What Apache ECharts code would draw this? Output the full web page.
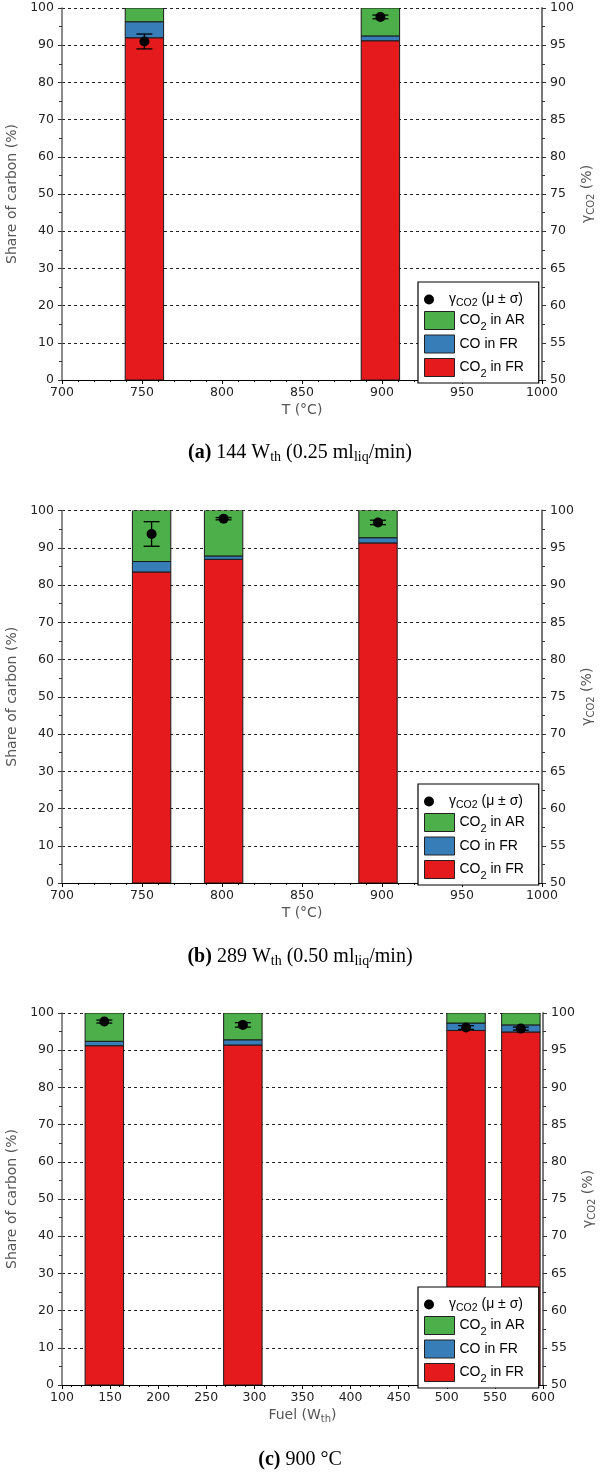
<!DOCTYPE html>
<html>
<head>
<meta charset="utf-8">
<script src="https://cdn.jsdelivr.net/npm/echarts@6/dist/echarts.min.js"></script>
<style>
html,body{margin:0;padding:0;background:#fff;}
#chart{width:600px;height:1474px;}
</style>
</head>
<body>
<div id="chart"></div>
<script>
// ---------------- DATA ----------------
// Panel (a): 144 W_th (0.25 ml_liq/min)
const tempsA = [751.5, 899];
const frA = [92.0, 91.2];      // CO2 in FR (%)
const coA = [4.3, 1.3];        // CO in FR (%)
const arA = [3.7, 7.5];        // CO2 in AR (%)
const gammaA = [95.5, 98.8];   // gamma CO2 mean (%)
const sdA = [1.0, 0.25];       // gamma CO2 std (%)

// Panel (b): 289 W_th (0.50 ml_liq/min)
const tempsB = [756, 801, 897.5];
const frB = [83.5, 86.9, 91.3];
const coB = [2.8, 0.9, 1.4];
const arB = [13.7, 12.2, 7.3];
const gammaB = [96.85, 98.9, 98.4];
const sdB = [1.65, 0.15, 0.3];

// Panel (c): 900 °C
const fuelC = [144, 288, 520, 577];
const frC = [91.2, 91.4, 95.3, 94.9];
const coC = [1.2, 1.4, 2.0, 1.9];
const arC = [7.6, 7.2, 2.7, 3.2];
const gammaC = [98.85, 98.4, 98.05, 97.9];
const sdC = [0.2, 0.3, 0.25, 0.2];

const tempTicks = {min: 700, max: 1000, interval: 50};
const fuelTicks = {min: 100, max: 600, interval: 50};
const shareTicks = {min: 0, max: 100, interval: 10};
const gammaTicks = {min: 50, max: 100, interval: 5};

// ---------------- STYLE ----------------
const RED = '#E41A1C', BLUE = '#377EB8', GREEN = '#4DAF4A';
const AXF = 'DejaVu Sans';
const LGF = 'Liberation Sans';
const SERIF = 'Liberation Serif';

const panels = [
  {x: tempsA, fr: frA, co: coA, ar: arA, g: gammaA, sd: sdA, half: 12, ticks: tempTicks,
   xname: 'T (°C)',
   grid: {left: 62, top: 8, width: 480, height: 372}, legendTop: 282, capTop: 436,
   caption: '{b|(a)}{n| 144 W}{s|th}{n| (0.25 ml}{s|liq}{n|/min)}'},
  {x: tempsB, fr: frB, co: coB, ar: arB, g: gammaB, sd: sdB, half: 12, ticks: tempTicks,
   xname: 'T (°C)',
   grid: {left: 62, top: 510.5, width: 480, height: 372.5}, legendTop: 784, capTop: 940,
   caption: '{b|(b)}{n| 289 W}{s|th}{n| (0.50 ml}{s|liq}{n|/min)}'},
  {x: fuelC, fr: frC, co: coC, ar: arC, g: gammaC, sd: sdC, half: 20, ticks: fuelTicks,
   xname: 'Fuel (W{s|th})',
   grid: {left: 62, top: 1013, width: 481, height: 372}, legendTop: 1287, capTop: 1443,
   caption: '{b|(c)}{n| 900 °C}'}
];

const subRich = {
  n: {fontFamily: AXF, fontSize: 14, color: '#555', lineHeight: 16},
  s: {fontFamily: AXF, fontSize: 10, color: '#555', lineHeight: 10, padding: [8, 0, 0, 0]}
};

function barRender(half) {
  return function (params, api) {
    const x = api.value(0), y0 = api.value(1), y1 = api.value(2);
    const p0 = api.coord([x - half, y0]);
    const p1 = api.coord([x + half, y1]);
    return {
      type: 'rect',
      shape: {x: p0[0], y: p1[1], width: p1[0] - p0[0], height: p0[1] - p1[1]},
      style: {fill: api.visual('color'), stroke: '#1a1a1a', lineWidth: 1}
    };
  };
}

function errRender(params, api) {
  const x = api.value(0), m = api.value(1), s = api.value(2);
  const c = api.coord([x, m]);
  const hi = api.coord([x, m + s]);
  const lo = api.coord([x, m - s]);
  const cap = 8;
  const st = {stroke: '#000', lineWidth: 1.3};
  return {
    type: 'group',
    children: [
      {type: 'line', shape: {x1: c[0], y1: hi[1], x2: c[0], y2: lo[1]}, style: st},
      {type: 'line', shape: {x1: c[0] - cap, y1: hi[1], x2: c[0] + cap, y2: hi[1]}, style: st},
      {type: 'line', shape: {x1: c[0] - cap, y1: lo[1], x2: c[0] + cap, y2: lo[1]}, style: st},
      {type: 'circle', shape: {cx: c[0], cy: c[1], r: 5}, style: {fill: '#000'}}
    ]
  };
}

const option = {
  animation: false,
  backgroundColor: '#fff',
  grid: [], xAxis: [], yAxis: [], series: [], legend: [], title: []
};

const legendNames = {
  gamma: '{n|γ}{s|CO2}{n| (μ ± σ)}',
  ar: '{n|CO}{s2|2}{n| in AR}',
  co: '{n|CO in FR}',
  fr: '{n|CO}{s2|2}{n| in FR}'
};
const legendRich = {
  n: {fontFamily: LGF, fontSize: 14, color: '#000', lineHeight: 18},
  s: {fontFamily: LGF, fontSize: 10.5, color: '#000', lineHeight: 10, padding: [8, 0, 0, 0]},
  s2: {fontFamily: LGF, fontSize: 11, color: '#000', lineHeight: 10, padding: [12, 0, 0, 0]}
};

const plainLabel = v => String(v);

panels.forEach((p, i) => {
  option.grid.push(Object.assign({containLabel: false, outerBoundsMode: 'none'}, p.grid));
  option.xAxis.push({
    type: 'value', gridIndex: i, min: p.ticks.min, max: p.ticks.max, interval: p.ticks.interval,
    name: p.xname, nameLocation: 'middle', nameGap: 23,
    nameTextStyle: {fontFamily: AXF, fontSize: 14, color: '#555', rich: subRich},
    axisLine: {show: true, onZero: false, lineStyle: {color: '#000', width: 1.2}},
    axisTick: {show: true, length: 4, lineStyle: {color: '#000'}},
    minorTick: {show: true, splitNumber: 5, length: 2, lineStyle: {color: '#000'}},
    axisLabel: {fontFamily: AXF, fontSize: 12.5, color: '#222', margin: 6, formatter: plainLabel},
    splitLine: {show: false}
  });
  option.yAxis.push({
    type: 'value', gridIndex: i, position: 'left',
    min: shareTicks.min, max: shareTicks.max, interval: shareTicks.interval,
    name: 'Share of carbon (%)', nameLocation: 'middle', nameGap: 33,
    nameTextStyle: {fontFamily: AXF, fontSize: 14, color: '#555'},
    axisLine: {show: true, onZero: false, lineStyle: {color: '#666', width: 1.5}},
    axisTick: {show: true, length: 4, lineStyle: {color: '#333'}},
    minorTick: {show: true, splitNumber: 2, length: 3, lineStyle: {color: '#333'}},
    axisLabel: {fontFamily: AXF, fontSize: 12.5, color: '#222', margin: 8, formatter: plainLabel},
    splitLine: {show: true, lineStyle: {color: '#222', type: [3, 3], width: 1}}
  });
  option.yAxis.push({
    type: 'value', gridIndex: i, position: 'right',
    min: gammaTicks.min, max: gammaTicks.max, interval: gammaTicks.interval,
    name: 'γ{s|CO2} (%)', nameLocation: 'middle', nameGap: 38, nameMoveOverlap: false,
    nameTextStyle: {fontFamily: AXF, fontSize: 14, color: '#555', rich: subRich},
    axisLine: {show: true, onZero: false, lineStyle: {color: '#777', width: 2}},
    axisTick: {show: true, length: 4, lineStyle: {color: '#333'}},
    minorTick: {show: true, splitNumber: 2, length: 3, lineStyle: {color: '#333'}},
    axisLabel: {fontFamily: AXF, fontSize: 12.5, color: '#222', margin: 8, formatter: plainLabel},
    splitLine: {show: false}
  });
  const xi = i, yl = 2 * i, yr = 2 * i + 1;
  const frData = p.x.map((x, k) => [x, 0, p.fr[k]]);
  const coData = p.x.map((x, k) => [x, p.fr[k], p.fr[k] + p.co[k]]);
  const arData = p.x.map((x, k) => [x, p.fr[k] + p.co[k], p.fr[k] + p.co[k] + p.ar[k]]);
  const gData = p.x.map((x, k) => [x, p.g[k], p.sd[k]]);
  [['fr', RED, frData], ['co', BLUE, coData], ['ar', GREEN, arData]].forEach(([nm, col, dat]) => {
    option.series.push({
      type: 'custom', name: nm, xAxisIndex: xi, yAxisIndex: yl,
      itemStyle: {color: col, borderColor: '#000', borderWidth: 1},
      renderItem: barRender(p.half), data: dat, clip: true,
      encode: {x: 0, y: [1, 2]}
    });
  });
  option.series.push({
    type: 'custom', name: 'gamma', xAxisIndex: xi, yAxisIndex: yr,
    itemStyle: {color: '#000'}, renderItem: errRender, data: gData, z: 5,
    encode: {x: 0, y: [1]}
  });
  // bar legend (with the box)
  option.legend.push({
    orient: 'vertical', left: 418, top: p.legendTop,
    padding: [27, 14, 4, 6], itemWidth: 30, itemHeight: 18, itemGap: 2.5,
    borderColor: '#000', borderWidth: 1.2, backgroundColor: '#fff',
    selectedMode: false,
    data: [
      {name: 'ar', icon: 'rect', itemStyle: {color: GREEN, borderColor: '#222', borderWidth: 1}},
      {name: 'co', icon: 'rect', itemStyle: {color: BLUE, borderColor: '#222', borderWidth: 1}},
      {name: 'fr', icon: 'rect', itemStyle: {color: RED, borderColor: '#222', borderWidth: 1}}
    ],
    formatter: n => legendNames[n],
    textStyle: {rich: legendRich, padding: [0, 0, 0, 0]},
    z: 10
  });
  option.legend.push({
    orient: 'vertical', left: 424, top: p.legendTop + 8,
    padding: 0, itemWidth: 30, itemHeight: 10,
    selectedMode: false,
    data: [{name: 'gamma', icon: 'circle', itemStyle: {color: '#000'}}],
    formatter: n => legendNames[n],
    textStyle: {rich: legendRich},
    z: 11
  });
  option.title.push({
    text: p.caption, left: 'center', top: p.capTop,
    textStyle: {
      fontWeight: 'normal', fontFamily: SERIF, fontSize: 20,
      rich: {
        b: {fontFamily: SERIF, fontSize: 20, fontWeight: 'bold', color: '#000', lineHeight: 24},
        n: {fontFamily: SERIF, fontSize: 20, fontWeight: 'normal', color: '#000', lineHeight: 24},
        s: {fontFamily: SERIF, fontSize: 14, fontWeight: 'normal', color: '#000', lineHeight: 14, padding: [9, 0, 0, 0]}
      }
    }
  });
});

const chart = echarts.init(document.getElementById('chart'), null, {renderer: 'canvas'});
chart.setOption(option);
</script>
</body>
</html>
